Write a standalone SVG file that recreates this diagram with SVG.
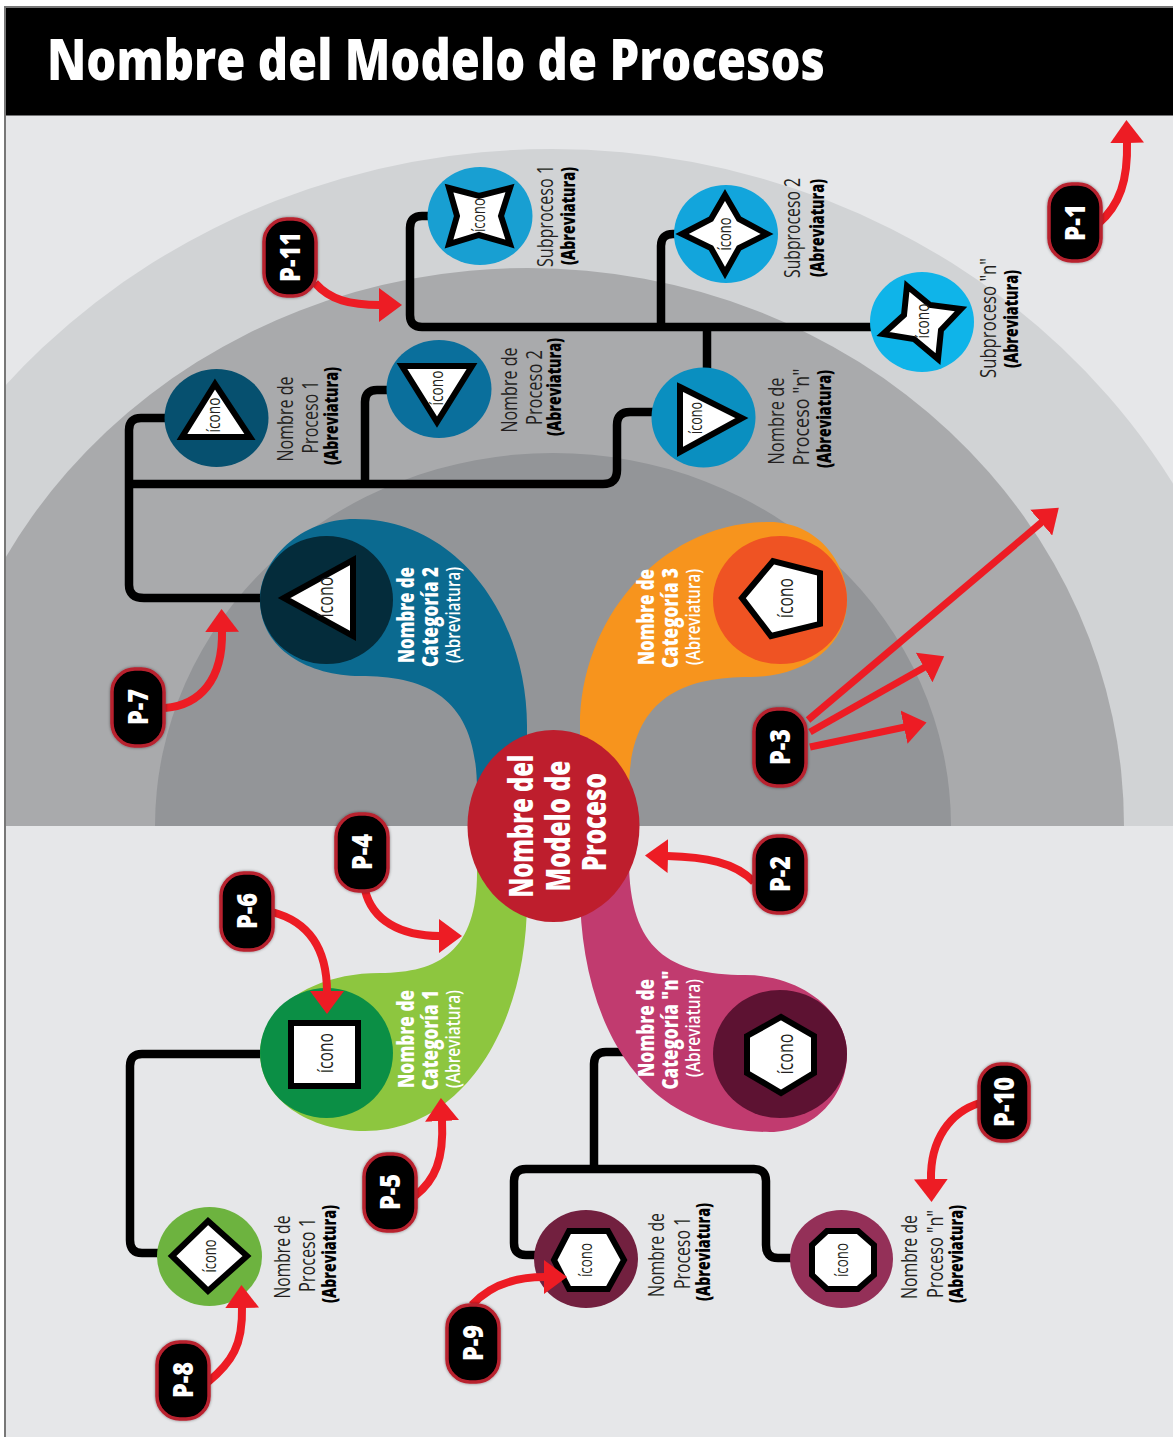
<svg xmlns="http://www.w3.org/2000/svg" width="1173" height="1437" viewBox="0 0 1173 1437">
<style>
text{font-family:"Open Sans","Liberation Sans",sans-serif;text-anchor:middle}
.t{font-size:21px;fill:#231f20}
.b{font-size:19px;font-weight:800;fill:#000}
.c{font-size:22px;font-weight:800;fill:#fff}
.ca{font-size:19px;font-weight:600;fill:#fff}
.m{font-size:33px;font-weight:800;fill:#fff}
.i{font-size:18px;fill:#231f20}
.il{font-size:21px;fill:#231f20}
.p{font-size:28px;font-weight:800;fill:#fff}
.line{fill:none;stroke:#000;stroke-width:8.5;stroke-linejoin:round}
.ico{fill:#fff;stroke:#000;stroke-width:6;stroke-linejoin:miter}
.arrow{fill:none;stroke:#ed1c24;stroke-width:8}
.badge{fill:#000;stroke:#b8202f;stroke-width:3.5;filter:url(#sh)}
</style>
<defs>
<clipPath id="top"><rect x="6" y="115" width="1167" height="711"/></clipPath>
<marker id="ah" markerUnits="userSpaceOnUse" markerWidth="24" markerHeight="34" viewBox="0 0 24 34" refX="1" refY="17" orient="auto"><path d="M0,0L23,17L0,34Z" fill="#ed1c24"/></marker>
<filter id="sh" x="-20%" y="-20%" width="140%" height="140%"><feDropShadow dx="0" dy="0" stdDeviation="1.8" flood-color="#000" flood-opacity=".45"/></filter>
</defs>

<g id="background">
<rect width="1173" height="1437" fill="#fff"/>
<rect x="4" y="6" width="1169" height="1431" fill="#777"/>
<rect x="6" y="8" width="1167" height="1429" fill="#e6e7e9"/>
<g clip-path="url(#top)">
<ellipse cx="552" cy="826" rx="720" ry="677" fill="#d1d3d5"/>
<ellipse cx="528" cy="826" rx="596" ry="558" fill="#a9aaac"/>
<ellipse cx="553" cy="826" rx="398" ry="373" fill="#939598"/>
</g>
<rect x="6" y="8" width="1167" height="107.500" fill="#000"/>
<text x="436" y="80" font-size="56" font-weight="800" fill="#fff" textLength="778" lengthAdjust="spacingAndGlyphs">Nombre del Modelo de Procesos</text>
</g>

<g id="connectors">
<path class="line" d="M430,216H422Q410,216 410,228V315Q410,327 422,327H872"/>
<path class="line" d="M676,234H673Q661,234 661,246V327"/>
<path class="line" d="M707,327V370"/>
<path class="line" d="M654,412H630Q617,412 617,425V470Q617,484 603,484H129"/>
<path class="line" d="M167,418H141Q129,418 129,430V585Q129,598 144,598H264"/>
<path class="line" d="M389,390H377Q365,390 365,402V484"/>
<path class="line" d="M264,1054H142Q130,1054 130,1066V1240Q130,1253 142,1253H160"/>
<path class="line" d="M640,1052H606Q594,1052 594,1064V1169"/>
<path class="line" d="M536,1255H526Q514,1255 514,1243V1181Q514,1169 526,1169H754Q766,1169 766,1181V1245Q766,1258 778,1258H792"/>
</g>

<g id="cat2"><path fill="#0b6a90" d="M527,790V726C527,620 460,519 355,519C300,519 260,560 260,600C260,650 310,676 360,676C430,676 477,700 477,790Z"/><ellipse cx="326.500" cy="600" rx="66.500" ry="64" fill="#042c3b"/><polygon class="ico" points="284,598 353,560 353,636"/><text class="il" transform="translate(333,597) rotate(-90)" textLength="41" lengthAdjust="spacingAndGlyphs">ícono</text>
<text class="c" transform="translate(414,615) rotate(-90)" textLength="96" lengthAdjust="spacingAndGlyphs">Nombre de</text><text class="c" transform="translate(438,617) rotate(-90)" textLength="100" lengthAdjust="spacingAndGlyphs">Categoría 2</text><text class="ca" transform="translate(460,615) rotate(-90)" textLength="96" lengthAdjust="spacingAndGlyphs">(Abreviatura)</text></g>

<g id="cat3"><path fill="#f7941d" d="M580,790V726C580,620 660,522 770,522C815,522 847,560 847,600C847,650 800,677 750,677C680,677 629,700 629,790Z"/><ellipse cx="780" cy="600" rx="67" ry="64" fill="#ef5323"/><polygon class="ico" points="742,598 773,561 820,573 820,624 771,636"/><text class="il" transform="translate(793,598) rotate(-90)" textLength="40" lengthAdjust="spacingAndGlyphs">ícono</text>
<text class="c" transform="translate(654,617) rotate(-90)" textLength="96" lengthAdjust="spacingAndGlyphs">Nombre de</text><text class="c" transform="translate(678,618) rotate(-90)" textLength="100" lengthAdjust="spacingAndGlyphs">Categoría 3</text><text class="ca" transform="translate(700,617) rotate(-90)" textLength="96" lengthAdjust="spacingAndGlyphs">(Abreviatura)</text></g>

<g id="cat1"><path fill="#8dc63f" d="M477,870C478,950 440,973 380,973C310,973 260,1010 260,1053C260,1100 310,1131 365,1131C460,1131 527,1030 527,900Z"/><ellipse cx="326.500" cy="1053" rx="66.500" ry="65" fill="#0b8f45"/><rect class="ico" x="291" y="1023" width="67" height="63"/><text class="il" transform="translate(333,1053) rotate(-90)" textLength="40" lengthAdjust="spacingAndGlyphs">ícono</text>
<text class="c" transform="translate(414,1039) rotate(-90)" textLength="98" lengthAdjust="spacingAndGlyphs">Nombre de</text><text class="c" transform="translate(438,1040) rotate(-90)" textLength="100" lengthAdjust="spacingAndGlyphs">Categoría 1</text><text class="ca" transform="translate(460,1039) rotate(-90)" textLength="98" lengthAdjust="spacingAndGlyphs">(Abreviatura)</text></g>

<g id="catn"><path fill="#c13b6f" d="M580,890C580,1000 625,1132 770,1132C815,1132 847,1095 847,1054C847,1010 800,975 745,975C670,975 629,950 629,860Z"/><ellipse cx="780" cy="1054" rx="67" ry="64" fill="#5d1232"/><polygon class="ico" points="747,1036 781,1017 814,1036 814,1073 781,1093 747,1073"/><text class="il" transform="translate(793,1054) rotate(-90)" textLength="41" lengthAdjust="spacingAndGlyphs">ícono</text>
<text class="c" transform="translate(654,1028) rotate(-90)" textLength="98" lengthAdjust="spacingAndGlyphs">Nombre de</text><text class="c" transform="translate(678,1030) rotate(-90)" textLength="119" lengthAdjust="spacingAndGlyphs">Categoría "n"</text><text class="ca" transform="translate(700,1028) rotate(-90)" textLength="98" lengthAdjust="spacingAndGlyphs">(Abreviatura)</text></g>

<g id="center"><ellipse cx="553.500" cy="826" rx="86" ry="96" fill="#be1e2d"/>
<text class="m" transform="translate(533,826) rotate(-90)" textLength="143" lengthAdjust="spacingAndGlyphs">Nombre del</text><text class="m" transform="translate(570,826) rotate(-90)" textLength="131" lengthAdjust="spacingAndGlyphs">Modelo de</text><text class="m" transform="translate(606,822) rotate(-90)" textLength="98" lengthAdjust="spacingAndGlyphs">Proceso</text></g>

<g id="sub1"><ellipse cx="480" cy="216" rx="52.500" ry="49" fill="#189fd2"/><polygon class="ico" points="449,188 479,196 510,188 501,216 510,244 479,235 449,244 457,216"/><text class="i" transform="translate(485,215) rotate(-90)" textLength="34" lengthAdjust="spacingAndGlyphs">ícono</text>
<text class="t" transform="translate(553,216) rotate(-90)" textLength="102" lengthAdjust="spacingAndGlyphs">Subproceso 1</text><text class="b" transform="translate(575,216) rotate(-90)" textLength="98" lengthAdjust="spacingAndGlyphs">(Abreviatura)</text></g>

<g id="sub2"><ellipse cx="726" cy="234" rx="52" ry="49" fill="#12a5dc"/><polygon class="ico" points="725,195 739,219 767,234 739,248 725,273 711,248 682,234 711,219"/><text class="i" transform="translate(731,234) rotate(-90)" textLength="33" lengthAdjust="spacingAndGlyphs">ícono</text>
<text class="t" transform="translate(800,228) rotate(-90)" textLength="100" lengthAdjust="spacingAndGlyphs">Subproceso 2</text><text class="b" transform="translate(824,228) rotate(-90)" textLength="98" lengthAdjust="spacingAndGlyphs">(Abreviatura)</text></g>

<g id="subn"><ellipse cx="922" cy="322" rx="52" ry="50" fill="#0fb4e9"/><polygon class="ico" points="907,286 930,305 961,309 941,330 938,359 914,339 883,334 904,315"/><text class="i" transform="translate(929,321) rotate(-90)" textLength="35" lengthAdjust="spacingAndGlyphs">ícono</text>
<text class="t" transform="translate(996,318) rotate(-90)" textLength="120" lengthAdjust="spacingAndGlyphs">Subproceso "n"</text><text class="b" transform="translate(1018,319) rotate(-90)" textLength="98" lengthAdjust="spacingAndGlyphs">(Abreviatura)</text></g>

<g id="proc1"><ellipse cx="216.500" cy="418" rx="52" ry="49" fill="#06506f"/><polygon class="ico" points="215,384 182,437 250,437"/><text class="i" transform="translate(220,415) rotate(-90)" textLength="35" lengthAdjust="spacingAndGlyphs">ícono</text>
<text class="t" transform="translate(293,419) rotate(-90)" textLength="85" lengthAdjust="spacingAndGlyphs">Nombre de</text><text class="t" transform="translate(318,417) rotate(-90)" textLength="73" lengthAdjust="spacingAndGlyphs">Proceso 1</text><text class="b" transform="translate(338,416) rotate(-90)" textLength="98" lengthAdjust="spacingAndGlyphs">(Abreviatura)</text></g>

<g id="proc2"><ellipse cx="439" cy="389" rx="52.500" ry="49" fill="#0a6f9c"/><polygon class="ico" points="402,366 472,366 437,422"/><text class="i" transform="translate(443,388) rotate(-90)" textLength="35" lengthAdjust="spacingAndGlyphs">ícono</text>
<text class="t" transform="translate(517,390) rotate(-90)" textLength="85" lengthAdjust="spacingAndGlyphs">Nombre de</text><text class="t" transform="translate(542,387.500) rotate(-90)" textLength="75" lengthAdjust="spacingAndGlyphs">Proceso 2</text><text class="b" transform="translate(561,387) rotate(-90)" textLength="98" lengthAdjust="spacingAndGlyphs">(Abreviatura)</text></g>

<g id="procn"><ellipse cx="703.500" cy="417.500" rx="52" ry="50" fill="#0a8fc0"/><polygon class="ico" points="680,387 742,418 680,452"/><text class="i" transform="translate(702,418) rotate(-90)" textLength="32" lengthAdjust="spacingAndGlyphs">ícono</text>
<text class="t" transform="translate(784,421) rotate(-90)" textLength="87" lengthAdjust="spacingAndGlyphs">Nombre de</text><text class="t" transform="translate(809,417) rotate(-90)" textLength="97" lengthAdjust="spacingAndGlyphs">Proceso "n"</text><text class="b" transform="translate(831,419) rotate(-90)" textLength="98" lengthAdjust="spacingAndGlyphs">(Abreviatura)</text></g>

<g id="cat1-proc1"><ellipse cx="209.500" cy="1256.500" rx="52.500" ry="49.500" fill="#6db33f"/><polygon class="ico" points="208,1221 247,1256 208,1291 172,1256"/><text class="i" transform="translate(216,1256) rotate(-90)" textLength="33" lengthAdjust="spacingAndGlyphs">ícono</text>
<text class="t" transform="translate(290,1257) rotate(-90)" textLength="83" lengthAdjust="spacingAndGlyphs">Nombre de</text><text class="t" transform="translate(315,1255) rotate(-90)" textLength="74" lengthAdjust="spacingAndGlyphs">Proceso 1</text><text class="b" transform="translate(336,1254) rotate(-90)" textLength="98" lengthAdjust="spacingAndGlyphs">(Abreviatura)</text></g>

<g id="catn-proc1"><ellipse cx="586" cy="1259" rx="52" ry="49" fill="#72203f"/><polygon class="ico" points="554,1260 569,1231 608,1231 624,1260 608,1289 569,1289"/><text class="i" transform="translate(592,1260) rotate(-90)" textLength="34" lengthAdjust="spacingAndGlyphs">ícono</text>
<text class="t" transform="translate(664,1255) rotate(-90)" textLength="84" lengthAdjust="spacingAndGlyphs">Nombre de</text><text class="t" transform="translate(690,1253) rotate(-90)" textLength="72" lengthAdjust="spacingAndGlyphs">Proceso 1</text><text class="b" transform="translate(710,1252) rotate(-90)" textLength="98" lengthAdjust="spacingAndGlyphs">(Abreviatura)</text></g>

<g id="catn-procn"><ellipse cx="841.500" cy="1259" rx="51.500" ry="49" fill="#943058"/><polygon class="ico" points="827,1231 858,1231 874,1245 874,1275 858,1289 827,1289 812,1275 812,1245"/><text class="i" transform="translate(848,1260) rotate(-90)" textLength="34" lengthAdjust="spacingAndGlyphs">ícono</text>
<text class="t" transform="translate(917,1257) rotate(-90)" textLength="84" lengthAdjust="spacingAndGlyphs">Nombre de</text><text class="t" transform="translate(943,1254) rotate(-90)" textLength="88" lengthAdjust="spacingAndGlyphs">Proceso "n"</text><text class="b" transform="translate(963,1254) rotate(-90)" textLength="98" lengthAdjust="spacingAndGlyphs">(Abreviatura)</text></g>

<g id="callout-arrows" marker-end="url(#ah)">
<path class="arrow" d="M1098,224C1120,205 1128,180 1127,142"/>
<path class="arrow" d="M754,882C735,862 705,857 667,856"/>
<path class="arrow" style="stroke-width:7" d="M808,720L1042,522"/>
<path class="arrow" style="stroke-width:7" d="M810,732L925,667"/>
<path class="arrow" style="stroke-width:7" d="M810,747L905,727"/>
<path class="arrow" d="M365,890C372,920 400,936 440,936"/>
<path class="arrow" d="M415,1196C435,1180 444,1160 442,1120"/>
<path class="arrow" d="M272,912C310,922 327,950 327,992"/>
<path class="arrow" d="M165,708C200,705 223,680 222,631"/>
<path class="arrow" d="M208,1382C232,1362 243,1345 242,1307"/>
<path class="arrow" d="M472,1305C490,1285 515,1277 545,1277"/>
<path class="arrow" d="M980,1103C950,1112 930,1140 931,1180"/>
<path class="arrow" d="M315,283C330,300 350,305 380,305"/>
</g>

<g id="P-1"><rect class="badge" x="1049" y="184" width="52" height="77" rx="23"/><text class="p" transform="translate(1085,222.500) rotate(-90)" textLength="37" lengthAdjust="spacingAndGlyphs">P-1</text></g>
<g id="P-2"><rect class="badge" x="754" y="836" width="52" height="77" rx="23"/><text class="p" transform="translate(790,874) rotate(-90)" textLength="36" lengthAdjust="spacingAndGlyphs">P-2</text></g>
<g id="P-3"><rect class="badge" x="754" y="709" width="52" height="77" rx="23"/><text class="p" transform="translate(790,747) rotate(-90)" textLength="36" lengthAdjust="spacingAndGlyphs">P-3</text></g>
<g id="P-4"><rect class="badge" x="336" y="814" width="52" height="77" rx="23"/><text class="p" transform="translate(372,852) rotate(-90)" textLength="36" lengthAdjust="spacingAndGlyphs">P-4</text></g>
<g id="P-5"><rect class="badge" x="364" y="1154" width="52" height="77" rx="23"/><text class="p" transform="translate(400,1192) rotate(-90)" textLength="36" lengthAdjust="spacingAndGlyphs">P-5</text></g>
<g id="P-6"><rect class="badge" x="221" y="873" width="52" height="77" rx="23"/><text class="p" transform="translate(257,911) rotate(-90)" textLength="36" lengthAdjust="spacingAndGlyphs">P-6</text></g>
<g id="P-7"><rect class="badge" x="112" y="669" width="52" height="77" rx="23"/><text class="p" transform="translate(148,707) rotate(-90)" textLength="36" lengthAdjust="spacingAndGlyphs">P-7</text></g>
<g id="P-8"><rect class="badge" x="157" y="1342" width="52" height="77" rx="23"/><text class="p" transform="translate(193,1380) rotate(-90)" textLength="36" lengthAdjust="spacingAndGlyphs">P-8</text></g>
<g id="P-9"><rect class="badge" x="447" y="1305" width="52" height="77" rx="23"/><text class="p" transform="translate(483,1343) rotate(-90)" textLength="36" lengthAdjust="spacingAndGlyphs">P-9</text></g>
<g id="P-10"><rect class="badge" x="979" y="1064" width="50" height="77" rx="22"/><text class="p" transform="translate(1014,1102) rotate(-90)" textLength="50" lengthAdjust="spacingAndGlyphs">P-10</text></g>
<g id="P-11"><rect class="badge" x="264" y="219" width="52" height="77" rx="23"/><text class="p" transform="translate(300,257) rotate(-90)" textLength="50" lengthAdjust="spacingAndGlyphs">P-11</text></g>
</svg>
